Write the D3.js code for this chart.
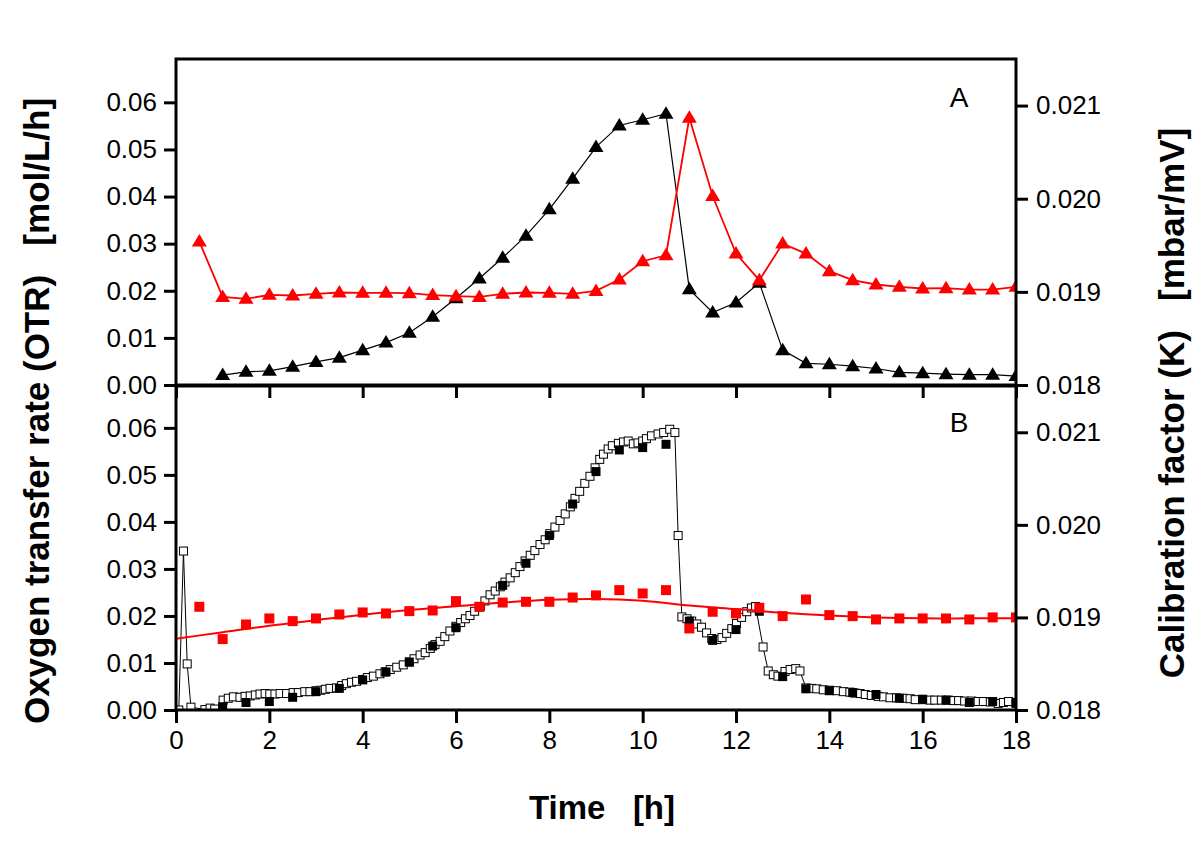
<!DOCTYPE html>
<html>
<head>
<meta charset="utf-8">
<script src="https://cdn.jsdelivr.net/npm/d3@7"></script>
<style>
  html, body { margin: 0; padding: 0; background: #fff; }
  svg { display: block; }
  text { font-family: "Liberation Sans", Arial, Helvetica, sans-serif; }
</style>
</head>
<body>
<svg id="chart" width="1200" height="857"></svg>
<script>
// ---------------- DATA ----------------
// Panel A: OTR (left axis) black triangles, time in h
const timeA_otr = [1,1.5,2,2.5,3,3.5,4,4.5,5,5.5,6,6.5,7,7.5,8,8.5,9,9.5,10,10.5,11,11.5,12,12.5,13,13.5,14,14.5,15,15.5,16,16.5,17,17.5,18];
const otrA = [0.0021,0.0028,0.0030,0.0039,0.0049,0.0058,0.0074,0.0090,0.0111,0.0145,0.0184,0.0226,0.0270,0.0317,0.0373,0.0438,0.0505,0.0551,0.0563,0.0576,0.0203,0.0154,0.0175,0.0217,0.0074,0.0046,0.0044,0.0040,0.0035,0.0027,0.0025,0.0023,0.0022,0.0022,0.0019];
// Panel A: calibration factor K (right axis) red triangles
const timeA_k = [0.5,1,1.5,2,2.5,3,3.5,4,4.5,5,5.5,6,6.5,7,7.5,8,8.5,9,9.5,10,10.5,11,11.5,12,12.5,13,13.5,14,14.5,15,15.5,16,16.5,17,17.5,18];
const kA = [0.01954,0.018946,0.018925,0.018968,0.018961,0.018979,0.018993,0.01899,0.01899,0.018986,0.018965,0.018954,0.018946,0.018979,0.018993,0.01899,0.018979,0.01901,0.019133,0.019329,0.019393,0.020869,0.020029,0.019411,0.019125,0.019518,0.019411,0.019222,0.019125,0.019079,0.019054,0.019036,0.01904,0.019025,0.019025,0.019054];

// Panel B: online OTR (open squares, dense)
const timeB_online = [0.06,0.16,0.24,0.32,0.62,0.73,0.83,1.01,1.12,1.23,1.37,1.48,1.59,1.7,1.8,1.91,2.01,2.12,2.23,2.37,2.51,2.62,2.76,2.87,3.0,3.1,3.2,3.3,3.44,3.55,3.65,3.76,3.87,4.0,4.1,4.23,4.37,4.48,4.59,4.73,4.87,5.0,5.1,5.23,5.34,5.45,5.55,5.66,5.76,5.87,6.0,6.1,6.2,6.3,6.4,6.52,6.62,6.73,6.84,6.95,7.05,7.16,7.27,7.37,7.48,7.59,7.69,7.8,7.91,8.01,8.12,8.23,8.34,8.45,8.55,8.65,8.76,8.87,8.98,9.08,9.16,9.26,9.35,9.48,9.59,9.69,9.8,9.9,10.0,10.08,10.19,10.33,10.45,10.58,10.69,10.76,10.84,10.95,11.05,11.16,11.26,11.37,11.48,11.59,11.7,11.8,11.91,12.01,12.12,12.23,12.33,12.42,12.58,12.69,12.8,12.9,13.05,13.16,13.28,13.37,13.5,13.62,13.73,13.87,14.0,14.16,14.3,14.44,14.55,14.66,14.77,14.9,15.05,15.16,15.3,15.44,15.58,15.73,15.84,16.0,16.16,16.26,16.4,16.55,16.66,16.77,16.9,17.05,17.19,17.3,17.45,17.62,17.73,17.84,18.0];
const otrB_online = [0,0.0338,0.0098,0.0006,0.0001,0.0004,0.0002,0.0021,0.0025,0.0028,0.0027,0.0029,0.0030,0.0032,0.0034,0.0035,0.0034,0.0034,0.0035,0.0035,0.0037,0.0037,0.0039,0.0039,0.0041,0.0042,0.0044,0.0046,0.0047,0.0052,0.0056,0.0059,0.0061,0.0065,0.0069,0.0072,0.0077,0.0081,0.0086,0.0091,0.0096,0.0102,0.0109,0.0117,0.0122,0.0131,0.0139,0.0146,0.0156,0.0168,0.0178,0.0186,0.0194,0.0201,0.0210,0.0220,0.0232,0.0245,0.0253,0.0262,0.0272,0.0281,0.0292,0.0305,0.0317,0.0329,0.0339,0.0352,0.0362,0.0375,0.0389,0.0403,0.0417,0.0432,0.0450,0.0465,0.0482,0.0497,0.0515,0.0533,0.0544,0.0555,0.0562,0.0567,0.0570,0.0572,0.0566,0.0568,0.0572,0.0577,0.0583,0.0587,0.0590,0.0597,0.0590,0.0371,0.0198,0.0194,0.0189,0.0183,0.0176,0.0164,0.0152,0.0150,0.0154,0.0163,0.0173,0.0184,0.0197,0.0209,0.0217,0.0220,0.0134,0.0083,0.0075,0.0072,0.0082,0.0086,0.0088,0.0083,0.0047,0.0046,0.0045,0.0043,0.0042,0.0041,0.0039,0.0038,0.0036,0.0035,0.0033,0.0031,0.0029,0.0028,0.0026,0.0026,0.0025,0.0024,0.0022,0.0022,0.0021,0.0021,0.0021,0.0021,0.0020,0.0020,0.0019,0.0019,0.0018,0.0018,0.0017,0.0014,0.0016,0.0018,0.0016];
// Panel B: offline OTR (filled black squares)
const timeB_offline = [1,1.5,2,2.5,3,3.5,4,4.5,5,5.5,6,6.5,7,7.5,8,8.5,9,9.5,10,10.5,11,11.5,12,12.5,13,13.5,14,14.5,15,15.5,16,16.5,17,17.5,18];
const otrB_offline = [0.0007,0.0016,0.0018,0.0027,0.0039,0.0046,0.0064,0.0081,0.0102,0.0136,0.0175,0.0219,0.0265,0.0312,0.0371,0.0438,0.0507,0.0553,0.0558,0.0565,0.0189,0.0148,0.0171,0.0210,0.0071,0.0045,0.0041,0.0037,0.0033,0.0025,0.0023,0.0021,0.0016,0.0018,0.0014];
// Panel B: K (red squares, right axis)
const timeB_k = [0.5,1,1.5,2,2.5,3,3.5,4,4.5,5,5.5,6,6.5,7,7.5,8,8.5,9,9.5,10,10.5,11,11.5,12,12.5,13,13.5,14,14.5,15,15.5,16,16.5,17,17.5,18];
const kB = [0.019115,0.018766,0.018924,0.018989,0.01896,0.018989,0.019032,0.019054,0.019043,0.019068,0.019075,0.019176,0.019115,0.019161,0.019169,0.019169,0.019215,0.019238,0.019295,0.019259,0.019295,0.018881,0.019061,0.019043,0.019104,0.019014,0.019194,0.019025,0.019014,0.018978,0.018989,0.018989,0.018989,0.018978,0.019,0.019];
// Panel B: K fit curve (red line)
const timeB_fit = [0,1,2,3,4,5,6,7,8,9,10,11,12,13,14,15,16,17,18];
const kB_fit = [0.01877,0.01884,0.01891,0.01897,0.01903,0.01908,0.01912,0.01916,0.01919,0.01920,0.01918,0.01913,0.01909,0.01905,0.01902,0.01900,0.01899,0.01899,0.01899];

// Tick labels
const xTicks = [0,2,4,6,8,10,12,14,16,18];
const leftTicks = [0,0.01,0.02,0.03,0.04,0.05,0.06];
const rightTicks = [0.018,0.019,0.020,0.021];
const panelLabels = ["A","B"];
const xTitle = "Time   [h]";
const leftTitle = "Oxygen transfer rate (OTR)   [mol/L/h]";
const rightTitle = "Calibration factor (K)   [mbar/mV]";

// ---------------- LAYOUT ----------------
const svg = d3.select("#chart");
svg.append("rect").attr("width",1200).attr("height",857).attr("fill","#fff");

const X0 = 176, X1 = 1016;
const panels = [
  {top: 59, bottom: 385, leftMax: 0.0692, label: panelLabels[0], labelY: 107},
  {top: 386, bottom: 710, leftMax: 0.0689, label: panelLabels[1], labelY: 432}
];
const x = d3.scaleLinear().domain([0,18]).range([X0, X1]);
panels.forEach(p => {
  p.yL = d3.scaleLinear().domain([0, p.leftMax]).range([p.bottom, p.top]);
  p.yR = d3.scaleLinear().domain([0.018, 0.0215]).range([p.bottom, p.top]);
});

const defs = svg.append("defs");
panels.forEach((p,i) => {
  defs.append("clipPath").attr("id","clip"+i)
    .append("rect").attr("x",X0).attr("y",p.top).attr("width",X1-X0).attr("height",p.bottom-p.top);
});

const triPath = "M0,-7.5L7.5,5L-7.5,5Z";

// ---------- Panel A ----------
{
  const p = panels[0];
  const g = svg.append("g").attr("clip-path","url(#clip0)");
  const blk = timeA_otr.map((t,i)=>[t,otrA[i]]);
  const red = timeA_k.map((t,i)=>[t,kA[i]]);
  g.append("path").datum(blk)
    .attr("d", d3.line().x(d=>x(d[0])).y(d=>p.yL(d[1])))
    .attr("fill","none").attr("stroke","#000").attr("stroke-width",1.2);
  g.append("path").datum(red)
    .attr("d", d3.line().x(d=>x(d[0])).y(d=>p.yR(d[1])))
    .attr("fill","none").attr("stroke","#ff0000").attr("stroke-width",1.8);
  g.selectAll("path.tb").data(blk).enter().append("path").attr("class","tb")
    .attr("d",triPath).attr("transform",d=>`translate(${x(d[0])},${p.yL(d[1])})`).attr("fill","#000");
  g.selectAll("path.tr").data(red).enter().append("path").attr("class","tr")
    .attr("d",triPath).attr("transform",d=>`translate(${x(d[0])},${p.yR(d[1])})`).attr("fill","#ff0000");
}

// ---------- Panel B ----------
{
  const p = panels[1];
  const g = svg.append("g").attr("clip-path","url(#clip1)");
  const online = timeB_online.map((t,i)=>[t,otrB_online[i]]);
  const offline = timeB_offline.map((t,i)=>[t,otrB_offline[i]]);
  const kpts = timeB_k.map((t,i)=>[t,kB[i]]);
  const fit = timeB_fit.map((t,i)=>[t,kB_fit[i]]);
  g.append("path").datum(online)
    .attr("d", d3.line().x(d=>x(d[0])).y(d=>p.yL(d[1])))
    .attr("fill","none").attr("stroke","#000").attr("stroke-width",1);
  g.selectAll("rect.on").data(online).enter().append("rect").attr("class","on")
    .attr("x",d=>x(d[0])-4).attr("y",d=>p.yL(d[1])-4).attr("width",8).attr("height",8)
    .attr("fill","#fff").attr("stroke","#000").attr("stroke-width",1);
  g.selectAll("rect.off").data(offline).enter().append("rect").attr("class","off")
    .attr("x",d=>x(d[0])-4.5).attr("y",d=>p.yL(d[1])-4.5).attr("width",9).attr("height",9)
    .attr("fill","#000");
  g.append("path").datum(fit)
    .attr("d", d3.line().curve(d3.curveCatmullRom).x(d=>x(d[0])).y(d=>p.yR(d[1])))
    .attr("fill","none").attr("stroke","#ff0000").attr("stroke-width",2);
  g.selectAll("rect.k").data(kpts).enter().append("rect").attr("class","k")
    .attr("x",d=>x(d[0])-5).attr("y",d=>p.yR(d[1])-5).attr("width",10).attr("height",10)
    .attr("fill","#ff0000");
}

// ---------- Axes ----------
const fmtL = d3.format(".2f"), fmtR = d3.format(".3f");
function styleAxis(sel, fs){
  sel.selectAll(".domain").remove();
  sel.selectAll(".tick line").attr("stroke","#000").attr("stroke-width",3);
  sel.selectAll(".tick text").attr("fill","#000").attr("font-size",fs)
     .attr("font-family","'Liberation Sans', Arial, sans-serif");
}
panels.forEach((p,i) => {
  const gl = svg.append("g").attr("transform",`translate(${X0},0)`)
    .call(d3.axisLeft(p.yL).tickValues(leftTicks).tickFormat(fmtL).tickSize(12).tickPadding(7).tickSizeOuter(0));
  styleAxis(gl, 26);
  const gr = svg.append("g").attr("transform",`translate(${X1},0)`)
    .call(d3.axisRight(p.yR).tickValues(rightTicks).tickFormat(fmtR).tickSize(12).tickPadding(8).tickSizeOuter(0));
  styleAxis(gr, 26);
  const gb = svg.append("g").attr("transform",`translate(0,${p.bottom})`)
    .call(d3.axisBottom(x).tickValues(xTicks).tickFormat(i===1 ? d3.format("d") : "").tickSize(13).tickPadding(8).tickSizeOuter(0));
  styleAxis(gb, 26);
  // frame
  svg.append("rect").attr("x",X0).attr("y",p.top).attr("width",X1-X0).attr("height",p.bottom-p.top)
    .attr("fill","none").attr("stroke","#000").attr("stroke-width",3);
  svg.append("text").attr("x",959).attr("y",p.labelY).attr("text-anchor","middle")
    .attr("font-size",28).attr("fill","#000").text(p.label);
});

// ---------- Titles ----------
svg.append("text").attr("x",602).attr("y",819).attr("text-anchor","middle")
  .attr("font-size",33).attr("font-weight","bold").attr("xml:space","preserve")
  .style("white-space","pre").text(xTitle);
svg.append("text").attr("transform","translate(49,411) rotate(-90)").attr("text-anchor","middle")
  .attr("font-size",35).attr("font-weight","bold").style("white-space","pre").text(leftTitle);
svg.append("text").attr("transform","translate(1184,403) rotate(-90)").attr("text-anchor","middle")
  .attr("font-size",35).attr("font-weight","bold").style("white-space","pre").text(rightTitle);
</script>
</body>
</html>
